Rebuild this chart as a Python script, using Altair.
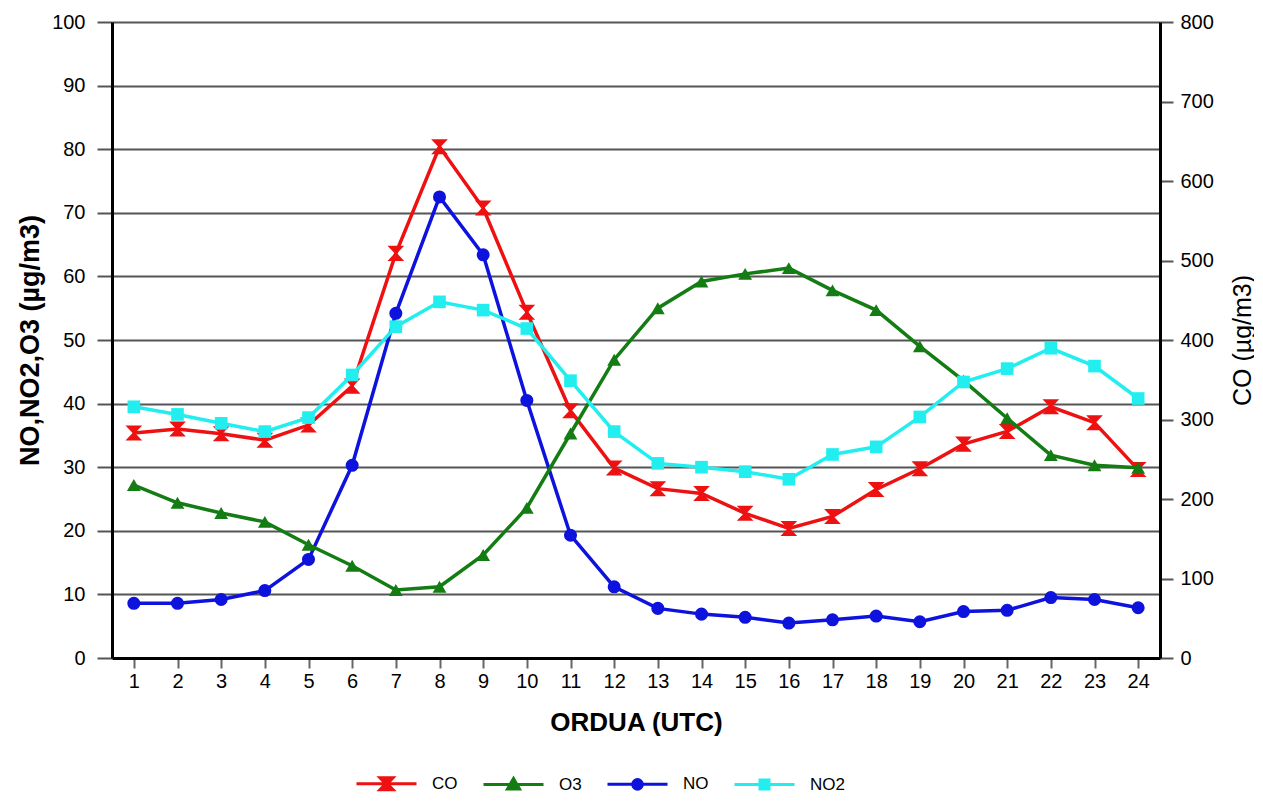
import altair as alt
import pandas as pd

hours = list(range(1, 25))
co = [283, 288, 282, 274, 293, 342, 509, 643, 566, 435, 311, 239, 213, 207, 182, 163, 178, 212, 238, 269, 285, 316, 296, 237]
o3 = [27.2, 24.4, 22.8, 21.4, 17.8, 14.5, 10.7, 11.2, 16.2, 23.6, 35.3, 46.9, 55.0, 59.2, 60.4, 61.3, 57.8, 54.7, 49.0, 43.6, 37.7, 31.9, 30.3, 29.9]
no = [8.6, 8.6, 9.2, 10.6, 15.5, 30.3, 54.2, 72.5, 63.4, 40.5, 19.3, 11.2, 7.8, 6.9, 6.4, 5.5, 6.0, 6.6, 5.7, 7.3, 7.5, 9.5, 9.2, 7.9]
no2 = [39.5, 38.3, 36.9, 35.6, 37.8, 44.5, 52.1, 56.0, 54.7, 51.8, 43.6, 35.6, 30.6, 30.0, 29.3, 28.1, 32.0, 33.2, 37.9, 43.4, 45.5, 48.7, 45.9, 40.8]

series_names = ["CO", "O3", "NO", "NO2"]
series_colors = ["#ee1111", "#137c13", "#0d12dd", "#22eef0"]
left_ticks = list(range(0, 101, 10))
right_ticks = list(range(0, 801, 100))

FONT = "Liberation Sans"

hourglass = "M-1,-0.9H1L0.15,0L1,0.9H-1L-0.15,0Z"
legend_paths = [
    "M-1,0H1M-0.22,-0.2H0.22L0.03,0L0.22,0.2H-0.22L-0.03,0Z",
    "M-1,0H1M0,-0.2L0.2,0.15L-0.2,0.15Z",
    "M-1,0H1M-0.16,0A0.16,0.16,0,1,0,0.16,0A0.16,0.16,0,1,0,-0.16,0Z",
    "M-1,0H1M-0.15,-0.15H0.15V0.15H-0.15Z",
]

x_axis = alt.Axis(
    title="ORDUA (UTC)", titleFontSize=26, titleFontWeight="bold", titleFont=FONT,
    titleY=64, titleBaseline="middle",
    labelAngle=0, labelFontSize=20, labelFont=FONT, labelPadding=3,
    tickSize=10, tickColor="#666666", tickWidth=2,
    domainColor="#000000", domainWidth=3, grid=False,
)
left_axis = alt.Axis(
    title="NO,NO2,O3 (µg/m3)", titleFontSize=27, titleFontWeight="bold", titleFont=FONT,
    titleAngle=270, titleX=-82, titleY=318, titleAlign="center", titleBaseline="middle",
    values=left_ticks, labelFontSize=20, labelFont=FONT, labelPadding=12,
    tickSize=15, tickColor="#555555", tickWidth=2,
    domainColor="#000000", domainWidth=3,
    grid=True, gridColor="#555555", gridWidth=2, orient="left",
)
right_axis = alt.Axis(
    title="CO (µg/m3)", titleFontSize=25, titleFontWeight="normal", titleFont=FONT,
    titleAngle=270, titleX=82, titleY=318, titleAlign="center", titleBaseline="middle",
    values=right_ticks, labelFontSize=20, labelFont=FONT, labelPadding=7,
    tickSize=13, tickColor="#555555", tickWidth=2,
    domainColor="#000000", domainWidth=3, grid=False, orient="right",
)

x_enc = alt.X("hour:O", scale=alt.Scale(type="point", padding=0.5), axis=x_axis)


def series_layer(values, color, shape, size, y_axis, domain):
    df = pd.DataFrame({"hour": hours, "value": values})
    base = alt.Chart(df).encode(
        x=x_enc,
        y=alt.Y("value:Q", scale=alt.Scale(domain=domain, nice=False, zero=True), axis=y_axis),
    )
    line = base.mark_line(color=color, strokeWidth=3.5)
    pts = base.mark_point(shape=shape, filled=True, color=color, size=size, opacity=1)
    return [line, pts]


co_layer = alt.layer(*series_layer(co, series_colors[0], hourglass, 280, right_axis, [0, 800]))
left_layer = alt.layer(
    *series_layer(no, series_colors[2], "circle", 170, left_axis, [0, 100]),
    *series_layer(o3, series_colors[1], "triangle-up", 190, left_axis, [0, 100]),
    *series_layer(no2, series_colors[3], "square", 160, left_axis, [0, 100]),
)

legend_df = pd.DataFrame({"series": series_names})
leg = alt.Legend(
    title=None, orient="none", legendX=243, legendY=730, direction="horizontal",
    symbolSize=3600, symbolStrokeWidth=3, symbolOpacity=1,
    labelFontSize=17, labelFont=FONT, labelOffset=14, columnPadding=19,
)
legend_layer = alt.Chart(legend_df).transform_filter("false").mark_point(
    filled=True, opacity=1, strokeWidth=3
).encode(
    fill=alt.Fill("series:N", scale=alt.Scale(domain=series_names, range=series_colors), legend=leg),
    stroke=alt.Stroke("series:N", scale=alt.Scale(domain=series_names, range=series_colors), legend=leg),
    shape=alt.Shape("series:N", scale=alt.Scale(domain=series_names, range=legend_paths), legend=leg),
)

chart = alt.layer(co_layer, left_layer, legend_layer).resolve_scale(
    y="independent"
).properties(
    width=1048, height=636,
    autosize=alt.AutoSizeParams(type="none"),
    padding={"left": 104, "top": 14, "right": 94, "bottom": 138},
).configure_view(stroke=None).configure(font=FONT, background="white")

chart.save("out.html", embed_options={"renderer": "svg", "actions": False})
